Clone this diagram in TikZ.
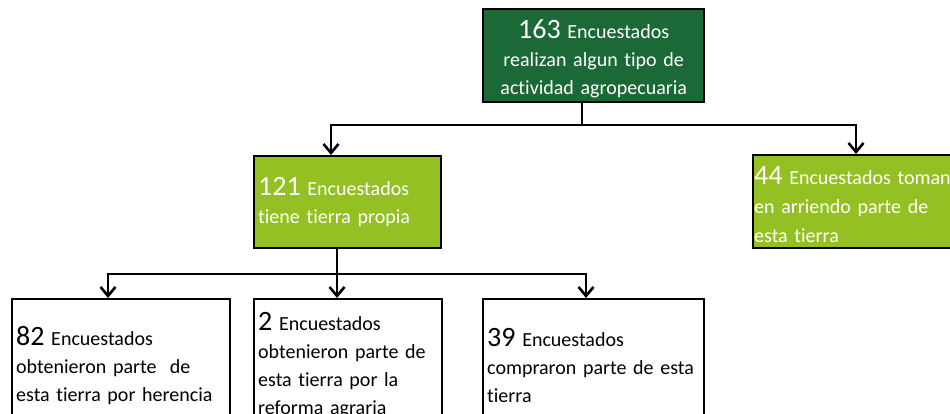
\documentclass[tikz,border=0pt]{standalone}
\usepackage{fontspec}
\setmainfont{Carlito}[Ligatures=NoCommon]
\usetikzlibrary{arrows.meta}
\definecolor{darkgreen}{RGB}{27,105,55}
\definecolor{limegreen}{RGB}{149,192,35}
\newcommand{\bignum}[1]{{\fontsize{28}{28}\selectfont #1}}

\begin{document}
\begin{tikzpicture}[
  x=1pt, y=-1pt,
  box/.style={rectangle, draw=black, line width=2.4pt, anchor=north west,
              align=left, inner xsep=4pt, inner ysep=0pt, text=black,
              font=\fontsize{20}{28}\selectfont},
  greenbox/.style={box, fill=limegreen, text=white},
  arrow/.style={line width=2.6pt, -{Straight Barb[length=9pt,width=15pt]}}
]
\useasboundingbox (0,0) rectangle (950,414);
\clip (0,0) rectangle (950,414);

\node[box, fill=darkgreen, text=white, align=center, text width=213pt,
      minimum width=221pt, minimum height=93pt] (total) at (482,8)
  {\rule{0pt}{26pt}\bignum{163} Encuestados\\realizan algun tipo de\\actividad agropecuaria};

\node[greenbox, text width=179pt, minimum width=187pt, minimum height=92pt] (propia) at (253,155)
  {\bignum{121} Encuestados\\tiene tierra propia};

\node[greenbox, text width=208pt, minimum width=210pt, minimum height=93pt,
      inner xsep=1pt, font=\fontsize{20}{29}\selectfont] (arriendo) at (752,154)
  {\rule{0pt}{23pt}\bignum{44} Encuestados toman\\en arriendo parte de\\esta tierra};

\node[box, text width=210pt, minimum width=218pt, minimum height=132pt] (herencia) at (11,298)
  {\bignum{82} Encuestados\\obtenieron parte~ de\\esta tierra por herencia};

\node[box, text width=180pt, minimum width=188pt, minimum height=132pt] (reforma) at (253,298)
  {\bignum{2} Encuestados\\obtenieron parte de\\esta tierra por la\\reforma agraria};

\node[box, text width=213pt, minimum width=221pt, minimum height=132pt] (compra) at (482,298)
  {\bignum{39} Encuestados\\compraron parte de esta\\tierra};

% upper bus
\coordinate (busA) at (582,125);
\coordinate (busAl) at (331,125);
\coordinate (busAr) at (856,125);
\draw[arrow] (total.south -| busA) -- (busA) -- (busAl) -- (busAl |- propia.north);
\draw[arrow] (busA) -- (busAr) -- (busAr |- arriendo.north);

% lower bus
\coordinate (busB) at (337,274);
\coordinate (busBl) at (108,274);
\coordinate (busBr) at (586,274);
\draw[arrow] (propia.south -| busB) -- (busB) -- (busB |- reforma.north);
\draw[arrow] (busB) -- (busBl) -- (busBl |- herencia.north);
\draw[arrow] (busB) -- (busBr) -- (busBr |- compra.north);

\end{tikzpicture}
\end{document}
